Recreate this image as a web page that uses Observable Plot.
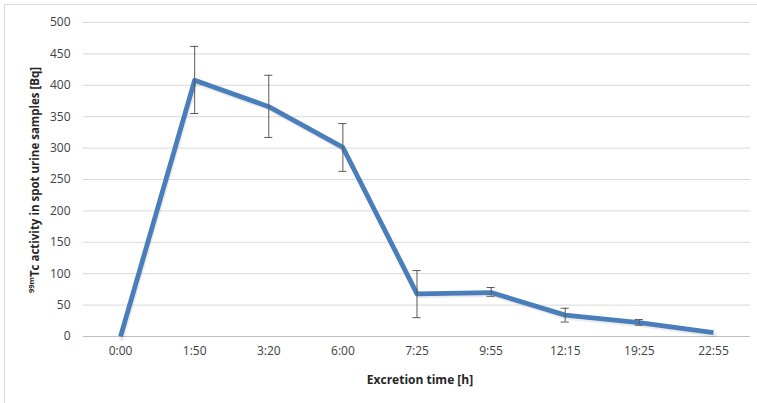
<!DOCTYPE html>
<html>
<head>
<meta charset="utf-8">
<script src="https://cdn.jsdelivr.net/npm/d3@7"></script>
<script src="https://cdn.jsdelivr.net/npm/@observablehq/plot@0.6"></script>
<style>
  html, body { margin: 0; padding: 0; background: #fff; }
  #wrap { position: relative; width: 757px; height: 403px; overflow: hidden; }
  #frame { position: absolute; left: 4px; top: 4px; width: 760px; height: 410px; border: 1px solid #d9d9d9; box-sizing: border-box; }
  #chart { position: absolute; left: 0; top: 0; }
</style>
</head>
<body>
<div id="wrap"><div id="frame"></div><div id="chart"></div></div>
<script>
const times = ["0:00", "1:50", "3:20", "6:00", "7:25", "9:55", "12:15", "19:25", "22:55"];
const activity = [0, 408, 366, 301, 68, 70, 34, 22, 6];
const errLow = [null, 355, 317, 263, 30, 64, 23, 18, null];
const errHigh = [null, 462, 416, 339, 105, 78, 45, 27, null];
const yTicks = [0, 50, 100, 150, 200, 250, 300, 350, 400, 450, 500];

const rows = times.map((t, i) => ({t, v: activity[i], lo: errLow[i], hi: errHigh[i]}));
const errRows = rows.filter(d => d.lo != null);

const font = "Open Sans, Lato, sans-serif";
const plot = Plot.plot({
  width: 757,
  height: 403,
  marginLeft: 83,
  marginRight: 7,
  marginTop: 22,
  marginBottom: 67,
  style: {fontFamily: font, fontSize: "12px", color: "#404040", background: "transparent"},
  x: {type: "band", domain: times, padding: 0, round: false, label: null, tickSize: 0, tickPadding: 10},
  y: {domain: [0, 500], ticks: yTicks, label: null, tickSize: 0, tickPadding: 13},
  marks: [
    Plot.ruleY(yTicks.filter(d => d > 0), {stroke: "#d9d9d9", strokeWidth: 1}),
    Plot.ruleY([0], {stroke: "#bfbfbf", strokeWidth: 1.2}),
    Plot.line(rows, {x: "t", y: "v", stroke: "#000", strokeOpacity: 0.08, strokeWidth: 5, dx: 1, dy: 2, strokeLinejoin: "round"}),
    Plot.line(rows, {x: "t", y: "v", stroke: "#4a7ebb", strokeWidth: 4.8, strokeLinejoin: "round", strokeLinecap: "butt"}),
    Plot.ruleX(errRows, {x: "t", y1: "lo", y2: "hi", stroke: "#595959", strokeWidth: 1}),
    Plot.tickY(errRows, {x: "t", y: "hi", stroke: "#595959", strokeWidth: 1, insetLeft: 33, insetRight: 33}),
    Plot.tickY(errRows, {x: "t", y: "lo", stroke: "#595959", strokeWidth: 1, insetLeft: 33, insetRight: 33})
  ]
});
document.getElementById("chart").appendChild(plot);

const svg = d3.select(plot);
svg.selectAll("[aria-label='x-axis tick label'] text, [aria-label='y-axis tick label'] text").attr("fill", "#404040");

svg.append("text")
  .attr("x", 420).attr("y", 384)
  .attr("text-anchor", "middle")
  .attr("font-family", font).attr("font-size", "12px").attr("font-weight", "bold").attr("fill", "#262626")
  .text("Excretion time [h]");

const yl = svg.append("text")
  .attr("transform", "translate(39,180) rotate(-90)")
  .attr("text-anchor", "middle")
  .attr("font-family", font).attr("font-size", "11.5px").attr("font-weight", "bold").attr("fill", "#262626");
yl.append("tspan").attr("font-size", "7.5px").attr("baseline-shift", "super").text("99m");
yl.append("tspan").text("Tc activity in spot urine samples [Bq]");
</script>
</body>
</html>
